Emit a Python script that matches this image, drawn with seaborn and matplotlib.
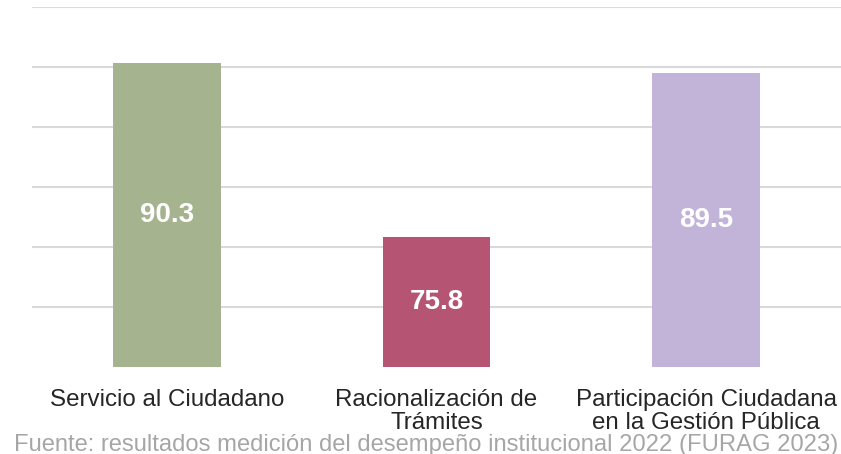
import pandas as pd
import matplotlib.pyplot as plt
import seaborn as sns

# Data
categorias = ["Servicio al Ciudadano", "Racionalización de\nTrámites",
              "Participación Ciudadana\nen la Gestión Pública"]
valores = [90.3, 75.8, 89.5]
colores = ["#a5b38f", "#b55473", "#c2b3d9"]
fuente = "Fuente: resultados medición del desempeño institucional 2022 (FURAG 2023)"

df = pd.DataFrame({"categoria": categorias, "valor": valores})

sns.set_style("white")
plt.rcParams['font.family'] = ['Liberation Sans', 'DejaVu Sans']

fig = plt.figure(figsize=(8.41, 4.54), dpi=100)
ax = fig.add_axes([32 / 841, 87 / 454, 809 / 841, 360 / 454])

sns.barplot(data=df, x="categoria", y="valor", hue="categoria", palette=colores,
            width=0.4, saturation=1, linewidth=0, legend=False, ax=ax, zorder=3)

# bars start from the axis bottom, not from zero
ax.set_ylim(65, 95)
for bar, v in zip(ax.patches, valores):
    bar.set_y(65)
    bar.set_height(v - 65)
    ax.text(bar.get_x() + bar.get_width() / 2, 65 + (v - 65) / 2, f"{v:.1f}",
            ha="center", va="center", color="white", fontsize=20, fontweight="bold", zorder=4)

ax.set_xlim(-0.5, 2.5)
ax.set_yticks([70, 75, 80, 85, 90, 95])
ax.yaxis.grid(True, color="#d9d9d9", linewidth=1.5, zorder=0)
ax.tick_params(axis="y", left=False, labelleft=False)
ax.tick_params(axis="x", bottom=False, pad=12, labelsize=17.4, labelcolor="#262626")
for lbl in ax.get_xticklabels():
    lbl.set_linespacing(1.1)
for s in ax.spines.values():
    s.set_visible(False)
ax.set_xlabel("")
ax.set_ylabel("")

fig.text(838 / 841, 3 / 454, fuente, ha="right", va="baseline", fontsize=17.1, color="#a6a6a6")

fig.savefig("out.png", dpi=100)
